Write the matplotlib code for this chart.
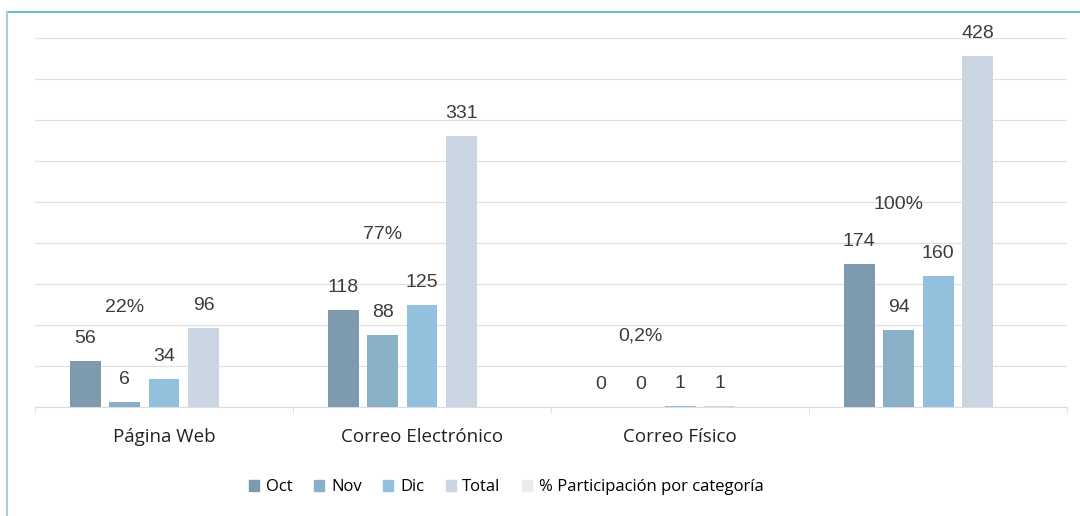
import numpy as np
import matplotlib
matplotlib.use('Agg')
import matplotlib.pyplot as plt
from matplotlib.lines import Line2D

# Data
categories = ['Página Web', 'Correo Electrónico', 'Correo Físico', '']
months = ['Oct', 'Nov', 'Dic', 'Total']
oct_vals = [56, 118, 0, 174]
nov_vals = [6, 88, 0, 94]
dic_vals = [34, 125, 1, 160]
total_vals = [96, 331, 1, 428]
pct_vals = [22, 77, 0.2, 100]
pct_labels = ['22%', '77%', '0,2%', '100%']

colors = ['#7e9aaf', '#8ab0c8', '#93c0dc', '#cad6e2', '#ececec']
series = [oct_vals, nov_vals, dic_vals, total_vals]

fig = plt.figure(figsize=(10.8, 5.16), dpi=100)
ax = fig.add_axes([0.0324, 0.2112, 0.9556, 0.7152])

x = np.arange(len(categories))
slot = 0.153
bw = 0.12
offsets = (np.arange(5) - 2) * slot

num_font = 'Liberation Sans'
txt_font = 'Open Sans'
num_color = '#3c3c3c'

for i, (vals, col, name) in enumerate(zip(series, colors, months)):
    ax.bar(x + offsets[i], vals, width=bw, color=col, label=name, zorder=3)
    for xi, v in zip(x + offsets[i], vals):
        ax.annotate(str(v), (xi, v), xytext=(0, 10), textcoords='offset points',
                    ha='center', va='bottom', fontsize=14, color=num_color,
                    family=num_font)

# % participation series on a hidden secondary axis
ax2 = ax.twinx()
ax2.set_ylim(-54, 227)
ax2.axis('off')
ax2.bar(x + offsets[4], [0] * len(x), width=bw, color=colors[4])
for xi, v, lab in zip(x + offsets[1], pct_vals, pct_labels):
    ax2.text(xi, v, lab, ha='center', va='center', fontsize=14,
             color=num_color, family=num_font)

ax.set_xlim(-0.5, 3.5)
ax.set_ylim(0, 450)
ax.set_yticks(np.arange(0, 451, 50))
ax.yaxis.grid(True, color='#e0e0e0', linewidth=0.9, zorder=0)
ax.tick_params(axis='y', left=False, labelleft=False)
ax.set_xticks(x)
ax.set_xticklabels(categories, fontsize=13.5, family=txt_font, color='#222222')
ax.set_xticks(np.arange(-0.5, 4, 1), minor=True)
ax.tick_params(axis='x', which='major', length=0, pad=15)
ax.tick_params(axis='x', which='minor', length=4, color='#dddddd')
for s in ['top', 'right', 'left']:
    ax.spines[s].set_visible(False)
ax.spines['bottom'].set_color('#dddddd')

handles = [plt.Rectangle((0, 0), 1, 1, color=c) for c in colors]
labels = months + ['% Participación por categoría']
fig.legend(handles, labels, loc='center', bbox_to_anchor=(0.469, 0.056),
           ncol=5, frameon=False, handlelength=0.6, handleheight=0.6,
           handletextpad=0.4, columnspacing=1.3, prop={'family': txt_font, 'size': 12})

# frame lines
fig.add_artist(Line2D([8 / 1080, 1], [1 - 12 / 516, 1 - 12 / 516], color='#6cc1c8', linewidth=1.5))
fig.add_artist(Line2D([7 / 1080, 7 / 1080], [0, 1 - 12 / 516], color='#a8cfe0', linewidth=1.5))

fig.savefig('out.png', dpi=100)
